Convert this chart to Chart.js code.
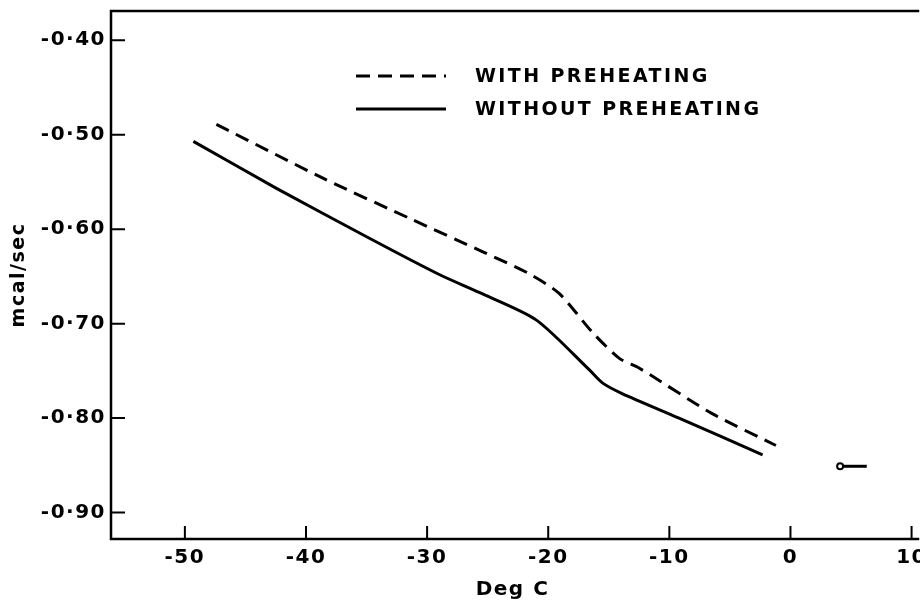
<!DOCTYPE html>
<html>
<head>
<meta charset="utf-8">
<script src="https://cdn.jsdelivr.net/npm/chart.js@4.4.1/dist/chart.umd.min.js"></script>
<style>
  html, body { margin: 0; padding: 0; background: #fff; }
  canvas { display: block; }
</style>
</head>
<body>
<canvas id="heatChart" width="920" height="602"></canvas>
<script>
// Valores (Deg C vs mcal/sec)
const seriesNames = ['WITH PREHEATING', 'WITHOUT PREHEATING'];

const withTemp = [-47.4, -38.6, -31.2, -25.4, -21.6, -19.1, -16.3, -14.1, -12.5, -6.5, -1.2];
const withVal  = [-0.489, -0.546, -0.590, -0.624, -0.647, -0.668, -0.710, -0.737, -0.747, -0.795, -0.829];

const withoutTemp = [-49.3, -42.4, -35.0, -29.0, -25.7, -21.0, -16.6, -15.5, -13.9, -9.2, -2.3];
const withoutVal  = [-0.507, -0.557, -0.608, -0.648, -0.667, -0.696, -0.749, -0.763, -0.774, -0.800, -0.839];

// pequeña marca suelta a la derecha
const markTemp = [4.1, 6.3];
const markVal  = [-0.851, -0.851];

const xTicks = [-50, -40, -30, -20, -10, 0, 10];
const yTicks = [-0.40, -0.50, -0.60, -0.70, -0.80, -0.90];

const toPoints = (xs, ys) => xs.map((v, i) => ({ x: v, y: ys[i] }));
const FONT = "'DejaVu Sans', sans-serif";

// Marco, ticks hacia dentro y leyenda dibujada a mano
const frameAndLegend = {
    id: 'frameAndLegend',
    beforeDraw(chart) {
        chart.ctx.letterSpacing = '1.5px';
    },
    afterDraw(chart) {
        const { ctx, chartArea: a, scales: { x, y } } = chart;
        ctx.save();
        ctx.strokeStyle = '#000';
        ctx.lineCap = 'square';
        ctx.lineWidth = 2.5;
        ctx.beginPath();
        ctx.moveTo(a.right + 4, a.top);
        ctx.lineTo(a.left, a.top);
        ctx.lineTo(a.left, a.bottom);
        ctx.lineTo(a.right + 4, a.bottom);
        ctx.stroke();

        ctx.lineWidth = 2;
        ctx.lineCap = 'butt';
        ctx.beginPath();
        yTicks.forEach(v => {
            const py = y.getPixelForValue(v);
            ctx.moveTo(a.left, py);
            ctx.lineTo(a.left + 14, py);
        });
        xTicks.forEach(v => {
            const px = x.getPixelForValue(v);
            ctx.moveTo(px, a.bottom);
            ctx.lineTo(px, a.bottom - 13);
        });
        ctx.stroke();

        // leyenda
        const rows = [76, 109];
        chart.data.datasets.slice(0, 2).forEach((ds, i) => {
            const ly = rows[i];
            ctx.beginPath();
            ctx.lineWidth = 3;
            ctx.setLineDash(ds.borderDash || []);
            ctx.moveTo(a.left + 245, ly);
            ctx.lineTo(a.left + 335, ly);
            ctx.stroke();
            ctx.setLineDash([]);
            ctx.fillStyle = '#000';
            ctx.font = 'bold 19px ' + FONT;
            ctx.letterSpacing = '2.4px';
            ctx.textBaseline = 'middle';
            ctx.textAlign = 'left';
            ctx.fillText(ds.label, a.left + 364, ly + 1);
        });
        ctx.restore();
    }
};

new Chart(document.getElementById('heatChart'), {
    type: 'line',
    data: {
        datasets: [
            {
                label: seriesNames[0],
                data: toPoints(withTemp, withVal),
                borderColor: '#000',
                borderWidth: 3,
                borderDash: [14, 8],
                tension: 0.25,
                pointRadius: 0,
                fill: false
            },
            {
                label: seriesNames[1],
                data: toPoints(withoutTemp, withoutVal),
                borderColor: '#000',
                borderWidth: 3,
                tension: 0.25,
                pointRadius: 0,
                fill: false
            },
            {
                label: '',
                data: toPoints(markTemp, markVal),
                borderColor: '#000',
                borderWidth: 3,
                pointRadius: [3, 0],
                pointBorderWidth: 2,
                pointBackgroundColor: '#fff',
                pointBorderColor: '#000',
                fill: false
            }
        ]
    },
    options: {
        responsive: false,
        animation: false,
        layout: { padding: { top: 11, right: 2, left: 0, bottom: 0 } },
        plugins: {
            legend: { display: false },
            tooltip: { enabled: false }
        },
        scales: {
            x: {
                type: 'linear',
                min: -56.1,
                max: 10.2,
                afterBuildTicks: s => { s.ticks = xTicks.map(v => ({ value: v })); },
                afterFit: s => { s.height = 63; s.paddingLeft = 0; s.paddingRight = 0; },
                grid: { display: false, drawTicks: false },
                border: { display: false },
                ticks: {
                    color: '#000',
                    padding: 7,
                    maxRotation: 0,
                    font: { family: FONT, size: 20, weight: 'bold' },
                    callback: v => String(v)
                },
                title: {
                    display: true,
                    text: 'Deg C',
                    color: '#000',
                    padding: { top: 0, bottom: 0 },
                    font: { family: FONT, size: 20, weight: 'bold' }
                }
            },
            y: {
                min: -0.928,
                max: -0.369,
                afterBuildTicks: s => { s.ticks = yTicks.map(v => ({ value: v })); },
                afterFit: s => { s.width = 111; s.paddingTop = 0; s.paddingBottom = 0; },
                grid: { display: false, drawTicks: false },
                border: { display: false },
                ticks: {
                    color: '#000',
                    padding: 5,
                    font: { family: FONT, size: 20, weight: 'bold' },
                    callback: v => v.toFixed(2).replace('.', '\u00b7')
                },
                title: {
                    display: true,
                    text: 'mcal/sec',
                    color: '#000',
                    padding: { top: 8, bottom: 0 },
                    font: { family: FONT, size: 19, weight: 'bold' }
                }
            }
        }
    },
    plugins: [frameAndLegend]
});
</script>
</body>
</html>
